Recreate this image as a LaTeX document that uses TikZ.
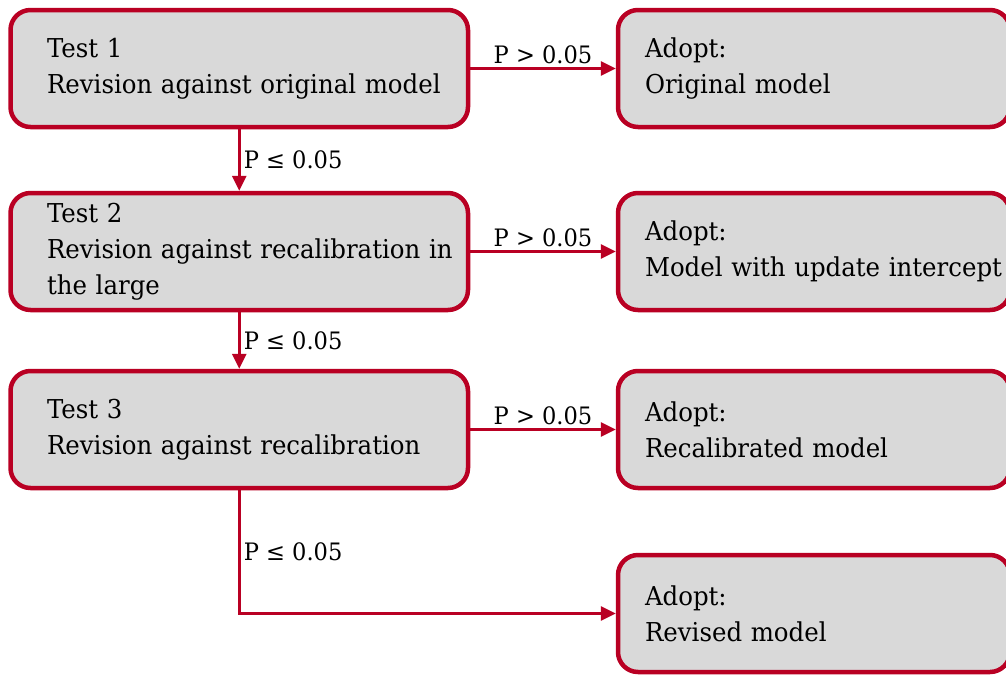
\documentclass[tikz,border=0pt]{standalone}
\usepackage{fontspec}
\setmainfont[FakeStretch=0.94]{DejaVu Serif}
\usetikzlibrary{arrows.meta}
\definecolor{boxred}{RGB}{185,0,35}
\definecolor{boxgrey}{RGB}{217,217,217}
\tikzset{
  testbox/.style={draw=boxred, fill=boxgrey, line width=4.5pt, rounded corners=20pt,
    minimum height=117pt, inner xsep=36.5pt, text width=384.5pt, align=left,
    font=\fontsize{26}{36}\selectfont},
  adoptbox/.style={testbox, inner xsep=27pt, text width=338pt},
  flow/.style={draw=boxred, line width=3pt, -{Triangle[length=15pt,width=14pt]}},
  plabel/.style={font=\fontsize{24}{28}\selectfont, inner sep=3pt}
}
\begin{document}
\begin{tikzpicture}[x=1pt, y=-1pt]
    \clip (0,0) rectangle (1006,675);
    % left column: the tests
    \node[testbox] (t1) at (239.25,68.5) {Test 1\\\mbox{Revision against original model}};
    \node[testbox] (t2) at (239.25,251.5) {Test 2\\\mbox{Revision against recalibration in}\\the large};
    \node[testbox] (t3) at (239.25,429.5) {Test 3\\\mbox{Revision against recalibration}};
    % right column: the outcomes
    \node[adoptbox] (a1) at (814,68.5) {Adopt:\\Original model};
    \node[adoptbox] (a2) at (814,251.5) {Adopt:\\\mbox{Model with update intercept}};
    \node[adoptbox] (a3) at (814,429.5) {Adopt:\\Recalibrated model};
    \node[adoptbox] (a4) at (814,613.5) {Adopt:\\Revised model};
    % decisions
    \draw[flow] (t1) -- (a1) node[plabel, midway, above] {P > 0.05};
    \draw[flow] (t2) -- (a2) node[plabel, midway, above] {P > 0.05};
    \draw[flow] (t3) -- (a3) node[plabel, midway, above] {P > 0.05};
    \draw[flow] (t1) -- (t2) node[plabel, midway, right] {P ≤ 0.05};
    \draw[flow] (t2) -- (t3) node[plabel, midway, right] {P ≤ 0.05};
    \draw[flow] (t3) |- (a4) node[plabel, pos=0.25, right] {P ≤ 0.05};
\end{tikzpicture}
\end{document}
